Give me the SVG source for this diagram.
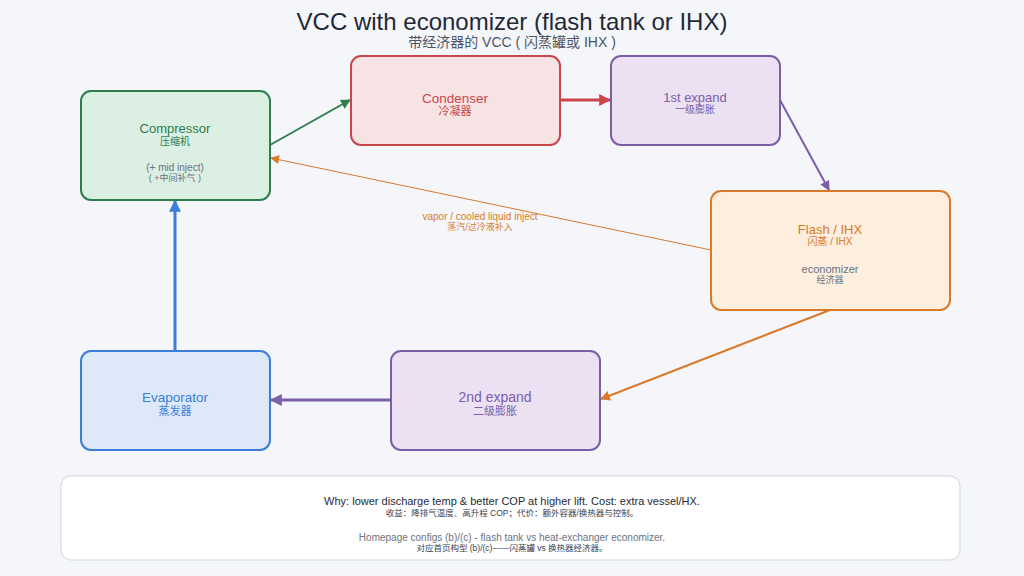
<svg xmlns="http://www.w3.org/2000/svg" width="1024" height="576" viewBox="0 0 1024 576">
<defs>
<style>
text{font-family:"Liberation Sans","Noto Sans CJK SC",sans-serif;text-anchor:middle}
.box{stroke-width:2}
.g{fill:#2e7d4f}.r{fill:#c9474b}.p{fill:#7b5ea7}.o{fill:#d97a2b}.b{fill:#3b7dd8}.gr{fill:#6b7280}
</style>
<marker id="mg" viewBox="0 0 10 10" refX="9" refY="5" markerWidth="5" markerHeight="5" orient="auto"><path d="M0,0L10,5L0,10z" fill="#2e7d4f"/></marker>
<marker id="mr" viewBox="0 0 10 10" refX="9" refY="5" markerWidth="4" markerHeight="4" orient="auto"><path d="M0,0L10,5L0,10z" fill="#c9474b"/></marker>
<marker id="mp" viewBox="0 0 10 10" refX="9" refY="5" markerWidth="5" markerHeight="5" orient="auto"><path d="M0,0L10,5L0,10z" fill="#7b5ea7"/></marker>
<marker id="mp3" viewBox="0 0 10 10" refX="9" refY="5" markerWidth="4" markerHeight="4" orient="auto"><path d="M0,0L10,5L0,10z" fill="#7b5ea7"/></marker>
<marker id="mo" viewBox="0 0 10 10" refX="9" refY="5" markerWidth="5" markerHeight="5" orient="auto"><path d="M0,0L10,5L0,10z" fill="#d97a2b"/></marker>
<marker id="mo1" viewBox="0 0 10 10" refX="9" refY="5" markerWidth="9" markerHeight="9" orient="auto"><path d="M0,0L10,5L0,10z" fill="#d97a2b"/></marker>
<marker id="mb" viewBox="0 0 10 10" refX="9" refY="5" markerWidth="4" markerHeight="4" orient="auto"><path d="M0,0L10,5L0,10z" fill="#3b7dd8"/></marker>
</defs>
<rect width="1024" height="576" fill="#f5f6fa"/>
<text x="512" y="30" font-size="24" fill="#1f2937">VCC with economizer (flash tank or IHX)</text>
<text x="512" y="47" font-size="14" fill="#4b5563">带经济器的 VCC ( 闪蒸罐或 IHX )</text>

<g id="connectors" fill="none">
<line x1="270" y1="145" x2="350" y2="100" stroke="#2e7d4f" stroke-width="2" marker-end="url(#mg)"/>
<line x1="560" y1="100" x2="610" y2="100" stroke="#c9474b" stroke-width="3" marker-end="url(#mr)"/>
<line x1="780" y1="100" x2="829" y2="190" stroke="#7b5ea7" stroke-width="2" marker-end="url(#mp)"/>
<line x1="830" y1="310" x2="601" y2="399" stroke="#d97a2b" stroke-width="2" marker-end="url(#mo)"/>
<line x1="391" y1="400" x2="271" y2="400" stroke="#7b5ea7" stroke-width="3" marker-end="url(#mp3)"/>
<line x1="175" y1="351" x2="175" y2="201" stroke="#3b7dd8" stroke-width="3" marker-end="url(#mb)"/>
<line x1="711" y1="250" x2="271" y2="158" stroke="#d97a2b" stroke-width="1" marker-end="url(#mo1)"/>
<text x="480" y="220" font-size="10" class="o">vapor / cooled liquid inject</text>
<text x="480" y="230" font-size="9" class="o">蒸汽/过冷液补入</text>
</g>

<g id="compressor">
<rect class="box" x="81" y="91" width="189" height="109" rx="10" fill="#dcefe3" stroke="#2e7d4f"/>
<text x="175" y="133" font-size="13" class="g">Compressor</text>
<text x="175" y="145" font-size="10" class="g">压缩机</text>
<text x="175" y="171" font-size="10" class="gr">(+ mid inject)</text>
<text x="175" y="181" font-size="9" class="gr">( +中间补气 )</text>
</g>
<g id="condenser">
<rect class="box" x="351" y="56" width="209" height="89" rx="10" fill="#f8e3e4" stroke="#c9474b"/>
<text x="455" y="103" font-size="13.5" class="r">Condenser</text>
<text x="455" y="115" font-size="11" class="r">冷凝器</text>
</g>
<g id="expand1">
<rect class="box" x="611" y="56" width="169" height="89" rx="10" fill="#ebe1f3" stroke="#7b5ea7"/>
<text x="695" y="102" font-size="13" class="p">1st expand</text>
<text x="695" y="113" font-size="10" class="p">一级膨胀</text>
</g>
<g id="flash">
<rect class="box" x="711" y="191" width="239" height="119" rx="10" fill="#fdeedd" stroke="#d97a2b"/>
<text x="830" y="234" font-size="13" class="o">Flash / IHX</text>
<text x="830" y="245" font-size="10" class="o">闪蒸 / IHX</text>
<text x="830" y="273" font-size="11" class="gr">economizer</text>
<text x="830" y="283" font-size="9" class="gr">经济器</text>
</g>
<g id="expand2">
<rect class="box" x="391" y="351" width="209" height="99" rx="10" fill="#ebe1f3" stroke="#7b5ea7"/>
<text x="495" y="402" font-size="14" class="p">2nd expand</text>
<text x="495" y="415" font-size="11" class="p">二级膨胀</text>
</g>
<g id="evaporator">
<rect class="box" x="81" y="351" width="189" height="99" rx="10" fill="#dde8f8" stroke="#3b7dd8"/>
<text x="175" y="402" font-size="13.5" class="b">Evaporator</text>
<text x="175" y="415" font-size="11" class="b">蒸发器</text>
</g>
<g id="footer">
<rect x="61" y="476" width="899" height="84" rx="10" fill="#ffffff" stroke="#d1d5db" stroke-width="1"/>
<text x="512" y="505" font-size="11" fill="#1f2937">Why: lower discharge temp &amp; better COP at higher lift. Cost: extra vessel/HX.</text>
<text x="512" y="516" font-size="8.5" fill="#374151">收益：降排气温度、高升程 COP；代价：额外容器/换热器与控制。</text>
<text x="512" y="541" font-size="10" fill="#6b7280">Homepage configs (b)/(c) - flash tank vs heat-exchanger economizer.</text>
<text x="512" y="551" font-size="8.5" fill="#374151">对应首页构型 (b)/(c)——闪蒸罐 vs 换热器经济器。</text>
</g>
</svg>
